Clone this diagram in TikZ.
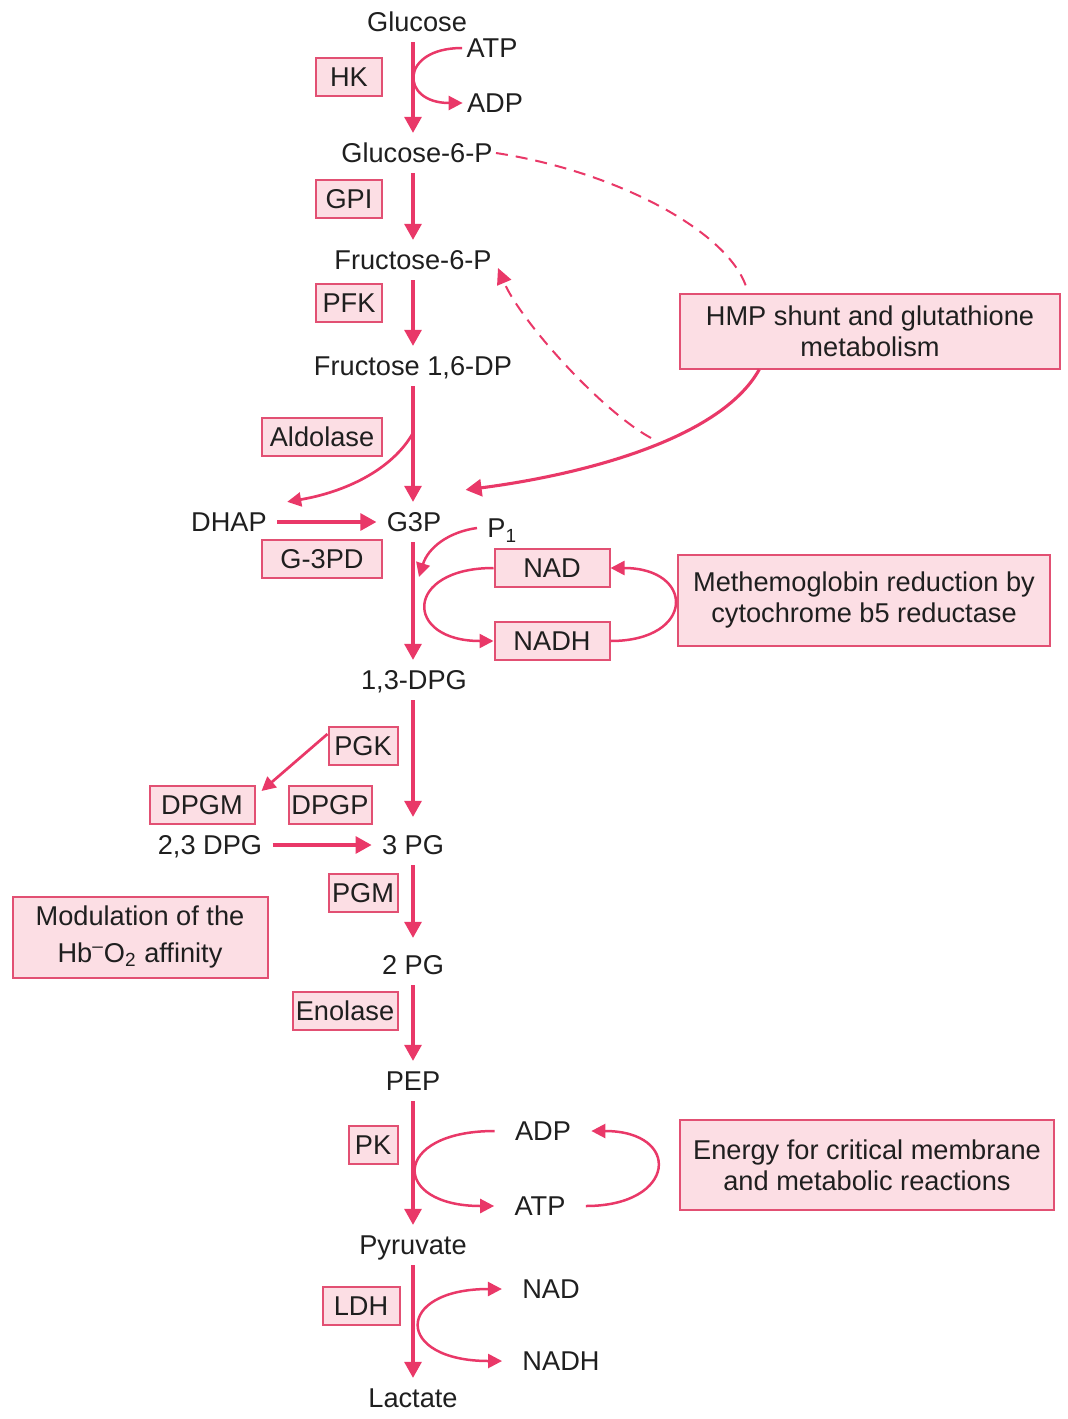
\documentclass[tikz,border=0pt]{standalone}
\usepackage{fontspec}
\setmainfont{Liberation Sans}
\usetikzlibrary{arrows.meta,calc}
\definecolor{pathred}{RGB}{233,56,104}
\definecolor{boxfill}{RGB}{252,222,228}
\definecolor{boxline}{RGB}{226,80,115}

\begin{document}
\begin{tikzpicture}[
        x=0.5pt, y=-0.5pt,
        >={Triangle[length=7pt,width=7pt]},
        every node/.style={font=\fontsize{13.6pt}{15.5pt}\selectfont, text=black!88},
        met/.style={inner sep=5pt, text height=9.75pt, text depth=0pt},
        cof/.style={met, inner xsep=10pt},
        enz/.style={draw=boxline, fill=boxfill, line width=1pt, inner xsep=0pt, minimum height=19pt, text height=9.75pt, text depth=0pt},
        notebox/.style={draw=boxline, fill=boxfill, line width=1pt, inner sep=0pt, align=center},
        mainarrow/.style={draw=pathred, line width=1.55pt, -{Triangle[length=8pt,width=8.5pt]}},
        cofarrow/.style={draw=pathred, line width=1.25pt, ->},
        shunt/.style={draw=pathred, line width=1pt, dash pattern=on 6pt off 4pt},
    ]
    \useasboundingbox (0,0) rectangle (1067,1419);
    \coordinate (ax) at (413,0);

    % glycolysis
    \node[met] (glc) at (417,22) {Glucose};
    \node[met] (g6p) at (417,153) {Glucose-6-P};
    \node[met] (f6p) at (413,260) {Fructose-6-P};
    \node[met] (f16) at (413,366) {Fructose 1,6-DP};
    \node[met] (dhap) at (229,522) {DHAP};
    \node[met] (g3p) at (414,522) {G3P};
    \node[met] (dpg13) at (414,680) {1,3-DPG};
    \node[met] (dpg23) at (210,845) {2,3 DPG};
    \node[met] (pg3) at (413,845) {3 PG};
    \node[met] (pg2) at (413,965) {2 PG};
    \node[met] (pep) at (413,1081) {PEP};
    \node[met] (pyr) at (413,1245) {Pyruvate};
    \node[met] (lac) at (413,1398) {Lactate};

    % enzymes
    \node[enz, minimum width=33pt] (hk) at (349,77) {HK};
    \node[enz, minimum width=33pt] (gpi) at (349,199) {GPI};
    \node[enz, minimum width=33pt] (pfk) at (349,303) {PFK};
    \node[enz, minimum width=60pt] (aldo) at (322,437) {Aldolase};
    \node[enz, minimum width=60pt] (g3pd) at (322,559) {G-3PD};
    \node[enz, minimum width=57.5pt] (nad) at (552,568) {NAD};
    \node[enz, minimum width=57.5pt] (nadh) at (552,641) {NADH};
    \node[enz, minimum width=34.5pt] (pgk) at (363,746) {PGK};
    \node[enz, minimum width=52.5pt] (dpgm) at (202,805) {DPGM};
    \node[enz, minimum width=41.5pt] (dpgp) at (330,805) {DPGP};
    \node[enz, minimum width=34.5pt] (pgm) at (363,893) {PGM};
    \node[enz, minimum width=52.5pt] (enol) at (345,1011) {Enolase};
    \node[enz, minimum width=24.5pt] (pk) at (373,1145) {PK};
    \node[enz, minimum width=38.5pt] (ldh) at (361,1306) {LDH};

    % side pathways
    \node[notebox, minimum width=190pt, minimum height=37.5pt] (hmp) at (870,331) {HMP shunt and glutathione\\metabolism};
    \node[notebox, minimum width=186pt, minimum height=45.5pt] (meth) at (864,600) {Methemoglobin reduction by\\cytochrome b5 reductase};
    \node[notebox, minimum width=127.5pt, minimum height=40.5pt] (modu) at (140,937) {Modulation of the\\[3pt]Hb\textsuperscript{\textendash}O\textsubscript{2} affinity};
    \node[notebox, minimum width=187pt, minimum height=45pt] (energy) at (867,1165) {Energy for critical membrane\\and metabolic reactions};

    % cofactors
    \node[met, inner xsep=2pt] (atp1) at (492,48) {ATP};
    \node[met, inner xsep=2pt] (adp1) at (495,103) {ADP};
    \node[met, anchor=west] (pi) at (477,528) {P\textsubscript{1}};
    \node[cof] (adp2) at (543,1131) {ADP};
    \node[cof] (atp2) at (540,1206) {ATP};
    \node[cof] (nad2) at (551,1289) {NAD};
    \node[cof] (nadh2) at (561,1361) {NADH};

    % main chain
    \draw[mainarrow] (glc.south -| ax) -- (g6p.north -| ax);
    \draw[mainarrow] (g6p.south -| ax) -- (f6p.north -| ax);
    \draw[mainarrow] (f6p.south -| ax) -- (f16.north -| ax);
    \draw[mainarrow] (f16.south -| ax) -- (g3p.north -| ax);
    \draw[mainarrow] (g3p.south -| ax) -- (dpg13.north -| ax);
    \draw[mainarrow, shorten >=4pt] (dpg13.south -| ax) -- (pg3.north -| ax);
    \draw[mainarrow, shorten >=3.5pt] (pg3.south -| ax) -- (pg2.north -| ax);
    \draw[mainarrow] (pg2.south -| ax) -- (pep.north -| ax);
    \draw[mainarrow] (pep.south -| ax) -- (pyr.north -| ax);
    \draw[mainarrow] (pyr.south -| ax) -- (lac.north -| ax);
    \draw[mainarrow] (dhap) -- (g3p);
    \draw[mainarrow] (dpg23) -- (pg3);

    % branches
    \coordinate (split) at (413,433);
    \draw[cofarrow, line width=1.35pt] (split) .. controls (392,470) and (345,492) .. ([xshift=5pt]dhap.north east);
    \draw[cofarrow, line width=1.35pt] ([yshift=6pt]pgk.west) -- ([shift={(3pt,-3pt)}]dpgm.north east);

    % cofactor loops
    \draw[cofarrow] (atp1.west) .. controls +(-63,0) and +(-63,0) .. (adp1.west);
    \coordinate (piin) at (419,577);
    \draw[cofarrow] (pi.west) .. controls (448,532) and (428,548) .. (piin);
    \draw[cofarrow] (nad.west) .. controls +(-90,0) and +(-90,0) .. (nadh.west);
    \draw[cofarrow] (nadh.east) .. controls +(85,0) and +(85,0) .. (nad.east);
    \draw[cofarrow] (adp2.west) .. controls +(-104,0) and +(-104,0) .. (atp2.west);
    \draw[cofarrow] (atp2.east) .. controls +(91,0) and +(91,0) .. (adp2.east);
    \draw[cofarrow, <->] (nad2.west) .. controls +(-108,0) and +(-108,0) .. (nadh2.west);

    % HMP shunt
    \draw[shunt] ([xshift=-3.5pt]g6p.east) .. controls (620,172) and (735,235) .. ($(hmp.north west)!0.18!(hmp.north east)$);
    \draw[mainarrow] ($(hmp.south west)!0.21!(hmp.south east)$) .. controls (720,440) and (580,475) .. ([shift={(7pt,6pt)}]g3p.north east);
    \coordinate (hmptail) at (651,438);
    \draw[shunt, -{Triangle[length=8pt,width=7.5pt]}] (hmptail) .. controls (600,410) and (520,320) .. ([shift={(-2pt,-4pt)}]f6p.east);
\end{tikzpicture}
\end{document}
